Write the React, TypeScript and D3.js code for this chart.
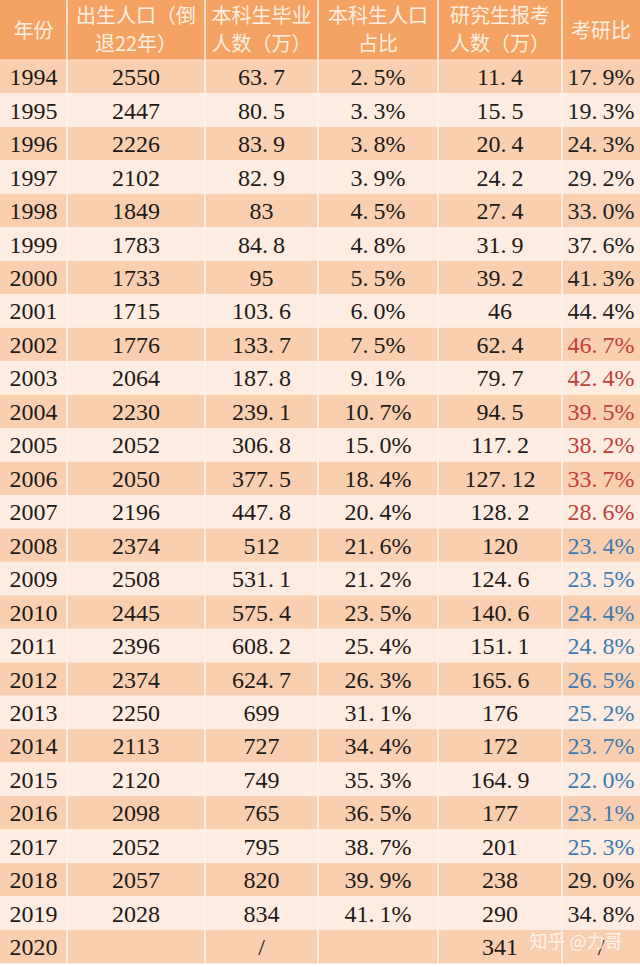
import React from "react";
import * as d3 from "d3";

const headers: string[][] = [
  ["年份"],
  ["出生人口（倒", "退22年）"],
  ["本科生毕业", "人数（万）"],
  ["本科生人口", "占比"],
  ["研究生报考", "人数（万）"],
  ["考研比"],
];

const years = [1994, 1995, 1996, 1997, 1998, 1999, 2000, 2001, 2002, 2003, 2004, 2005, 2006, 2007, 2008, 2009, 2010, 2011, 2012, 2013, 2014, 2015, 2016, 2017, 2018, 2019, 2020];
const births = ["2550", "2447", "2226", "2102", "1849", "1783", "1733", "1715", "1776", "2064", "2230", "2052", "2050", "2196", "2374", "2508", "2445", "2396", "2374", "2250", "2113", "2120", "2098", "2052", "2057", "2028", ""];
const undergrads = ["63.7", "80.5", "83.9", "82.9", "83", "84.8", "95", "103.6", "133.7", "187.8", "239.1", "306.8", "377.5", "447.8", "512", "531.1", "575.4", "608.2", "624.7", "699", "727", "749", "765", "795", "820", "834", "/"];
const undergradShare = ["2.5%", "3.3%", "3.8%", "3.9%", "4.5%", "4.8%", "5.5%", "6.0%", "7.5%", "9.1%", "10.7%", "15.0%", "18.4%", "20.4%", "21.6%", "21.2%", "23.5%", "25.4%", "26.3%", "31.1%", "34.4%", "35.3%", "36.5%", "38.7%", "39.9%", "41.1%", ""];
const applicants = ["11.4", "15.5", "20.4", "24.2", "27.4", "31.9", "39.2", "46", "62.4", "79.7", "94.5", "117.2", "127.12", "128.2", "120", "124.6", "140.6", "151.1", "165.6", "176", "172", "164.9", "177", "201", "238", "290", "341"];
const examRatio = ["17.9%", "19.3%", "24.3%", "29.2%", "33.0%", "37.6%", "41.3%", "44.4%", "46.7%", "42.4%", "39.5%", "38.2%", "33.7%", "28.6%", "23.4%", "23.5%", "24.4%", "24.8%", "26.5%", "25.2%", "23.7%", "22.0%", "23.1%", "25.3%", "29.0%", "34.8%", "/"];
const redYears = [2002, 2007];
const blueYears = [2008, 2017];

const W = 640;
const H = 967;
const headerH = 60;
const rowH = 33.46;
const colEdges = [0, 67, 205, 318, 438, 562, 640];

const CJK = "'Noto Sans CJK SC'";
const SERIF = "'Liberation Serif'";

const splitDot = (s: string) => {
  const k = s.indexOf(".");
  if (k < 0) return [s];
  return [s.slice(0, k + 1), s.slice(k + 1)];
};

export default function App() {
  const columns = [years.map(String), births, undergrads, undergradShare, applicants, examRatio];
  const y = d3
    .scaleBand<number>()
    .domain(years)
    .range([headerH, headerH + rowH * years.length])
    .paddingInner(0);
  const colCenter = (i: number) => (colEdges[i] + colEdges[i + 1]) / 2;
  const ratioColor = (yr: number) =>
    yr >= redYears[0] && yr <= redYears[1] ? "#c0413a" : yr >= blueYears[0] && yr <= blueYears[1] ? "#3f7bb0" : "#222";

  return (
    <svg width={W} height={H} style={{ position: "absolute", left: 0, top: 0 }}>
      <rect x={0} y={0} width={W} height={H} fill="#ffffff" />
      <rect x={0} y={0} width={W} height={headerH} fill="#f4a365" />
      {years.map((yr, i) => (
        <rect key={yr} x={0} y={y(yr)} width={W} height={y.bandwidth()} fill={i % 2 === 0 ? "#f9cfb0" : "#fdece1"} />
      ))}
      {colEdges.slice(1, -1).map((x) => (
        <line key={x} x1={x} x2={x} y1={0} y2={headerH + rowH * years.length} stroke="#fdf2ea" strokeWidth={1.5} />
      ))}
      <line x1={0} x2={W} y1={headerH} y2={headerH} stroke="#fbe3d2" strokeWidth={1} />
      {headers.map((lines, i) => (
        <g key={i} fontSize={20} fill="#fdeedf" textAnchor="middle">
          {lines.length === 1 ? (
            <text x={colCenter(i)} y={33} dominantBaseline="middle" style={{ fontFamily: CJK }}>{lines[0]}</text>
          ) : (
            lines.map((t, j) => (
              <text key={j} x={colCenter(i)} y={j === 0 ? 18 : 46} dominantBaseline="middle" style={{ fontFamily: CJK }}>{t}</text>
            ))
          )}
        </g>
      ))}
      {years.map((yr, r) =>
        columns.map((col, c) => {
          const v = col[r];
          if (!v) return null;
          const isSlash = v === "/";
          const parts = splitDot(v);
          return (
            <text
              key={`${yr}-${c}`}
              x={colCenter(c)}
              y={(y(yr) as number) + y.bandwidth() / 2 + 8.5}
              textAnchor="middle"
              style={{ fontFamily: SERIF }}
              fontSize={24}
              fill={c === 5 && !isSlash ? ratioColor(yr) : "#1e1a17"}
            >
              {parts.length === 1 ? v : (
                <>
                  <tspan>{parts[0]}</tspan>
                  <tspan dx={5}>{parts[1]}</tspan>
                </>
              )}
            </text>
          );
        })
      )}
      <text x={576} y={948} textAnchor="middle" style={{ fontFamily: CJK }} fontSize={18} fill="#ffffff" fillOpacity={0.75}>
        知乎 @力哥
      </text>
    </svg>
  );
}
